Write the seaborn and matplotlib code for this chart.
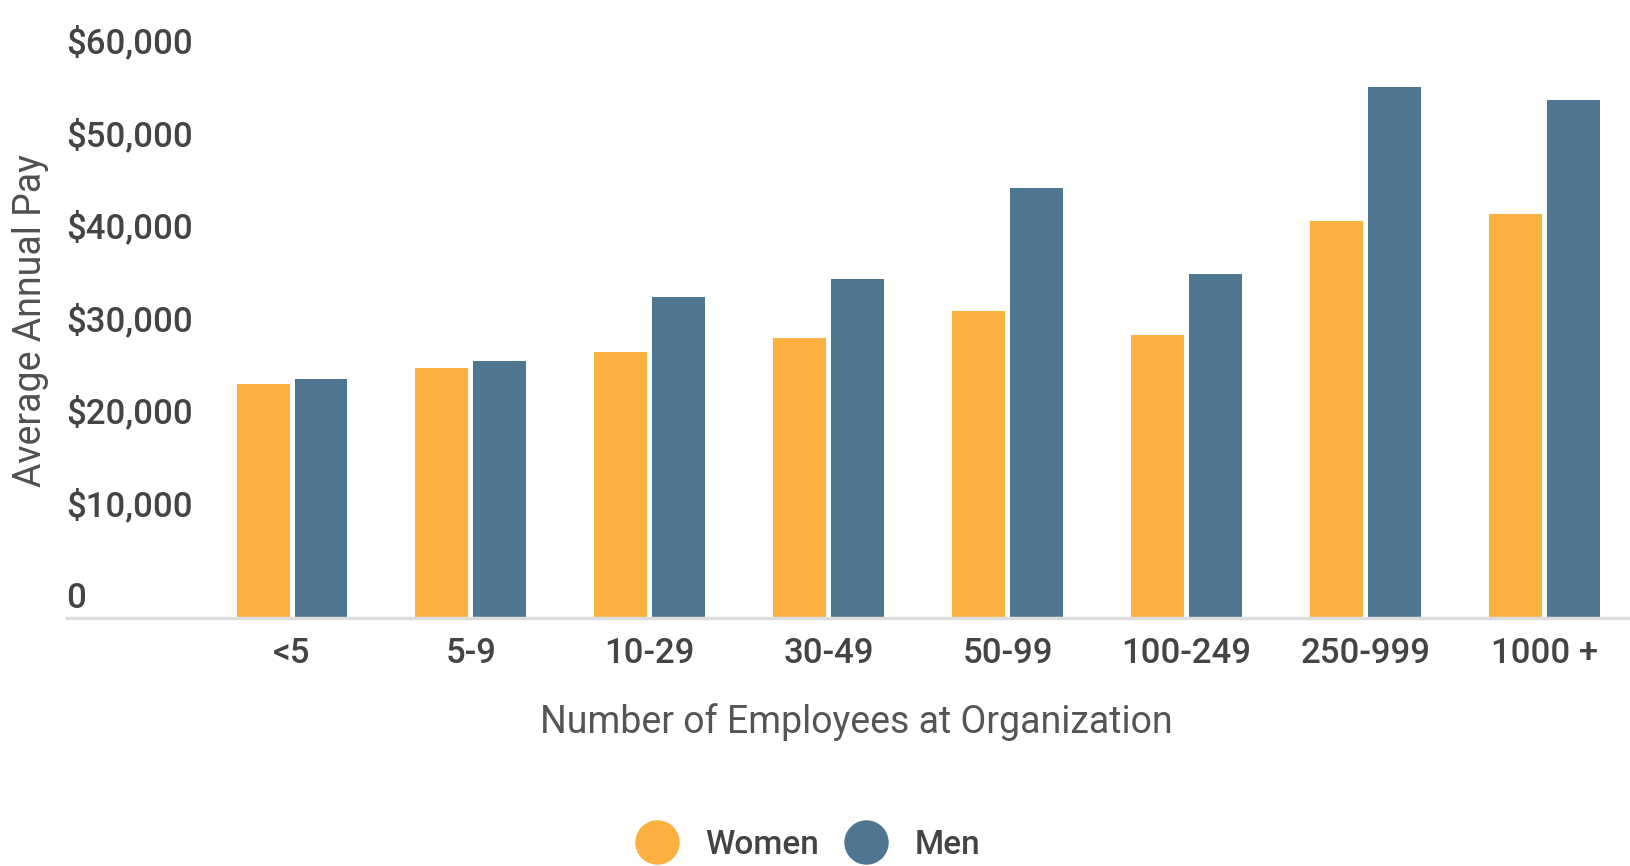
import pandas as pd
import seaborn as sns
import matplotlib.pyplot as plt
from matplotlib.transforms import ScaledTranslation
from matplotlib.lines import Line2D

# average annual pay by organization size
sizes = ['<5', '5-9', '10-29', '30-49', '50-99', '100-249', '250-999', '1000 +']
women_pay = [25300, 27000, 28700, 30200, 33150, 30550, 42900, 43650]
men_pay = [25800, 27800, 34650, 36650, 46450, 37100, 57350, 55950]
groups = ['Women', 'Men']
colors = ['#FBB040', '#4E7690']
ytick_vals = [0, 10000, 20000, 30000, 40000, 50000, 60000]
ytick_labels = ['0', '$10,000', '$20,000', '$30,000', '$40,000', '$50,000', '$60,000']

df = pd.DataFrame({
    'size': sizes * 2,
    'pay': women_pay + men_pay,
    'gender': ['Women'] * len(sizes) + ['Men'] * len(sizes),
})

sns.set_style('white')
plt.rcParams['font.family'] = ['Roboto', 'DejaVu Sans']
text_col = '#444444'

fig = plt.figure(figsize=(16.3, 8.66), dpi=100)
ax = fig.add_axes([67 / 1630, 1 - 618 / 866, 1 - 67 / 1630, (618 - 62.4) / 866])

sns.barplot(data=df, x='size', y='pay', hue='gender', order=sizes,
            hue_order=groups, palette=colors, width=0.648, gap=0.086,
            linewidth=0, saturation=1, legend=False, ax=ax)

ax.set_xlim(-1.258, 7.48)
ax.set_ylim(0, 60000)
for s in ['top', 'right', 'left']:
    ax.spines[s].set_visible(False)
ax.spines['bottom'].set_color('#dddddd')
ax.spines['bottom'].set_linewidth(2.5)

ax.set_yticks(ytick_vals)
ax.set_yticklabels(ytick_labels)
ax.tick_params(axis='y', length=0, pad=0, labelsize=25, labelcolor=text_col)
off = ScaledTranslation(-0.01, 0.23, fig.dpi_scale_trans)
for lab in ax.get_yticklabels():
    lab.set_horizontalalignment('left')
    lab.set_fontweight('medium')
    lab.set_transform(lab.get_transform() + off)

ax.tick_params(axis='x', length=0, pad=14, labelsize=25, labelcolor=text_col)
for lab in ax.get_xticklabels():
    lab.set_fontweight('medium')

ax.set_xlabel('Number of Employees at Organization', fontsize=27, color='#555555')
ax.xaxis.set_label_coords(0.505, -0.153)
ax.xaxis.label.set_verticalalignment('top')
ax.set_ylabel('Average Annual Pay', fontsize=27, color='#505050')
ax.yaxis.set_label_coords(-0.0115, 0.536)

handles = [Line2D([], [], marker='o', linestyle='', markersize=32,
                  markerfacecolor=c, markeredgewidth=0) for c in colors]
leg = fig.legend(handles, groups, loc='center', bbox_to_anchor=(0.4956, 1 - 845 / 866),
                 ncol=2, frameon=False, fontsize=24, handlelength=1.3,
                 handletextpad=0.8, columnspacing=0.76)
for t in leg.get_texts():
    t.set_color(text_col)
    t.set_fontweight('medium')

fig.savefig('out.png', dpi=100)
